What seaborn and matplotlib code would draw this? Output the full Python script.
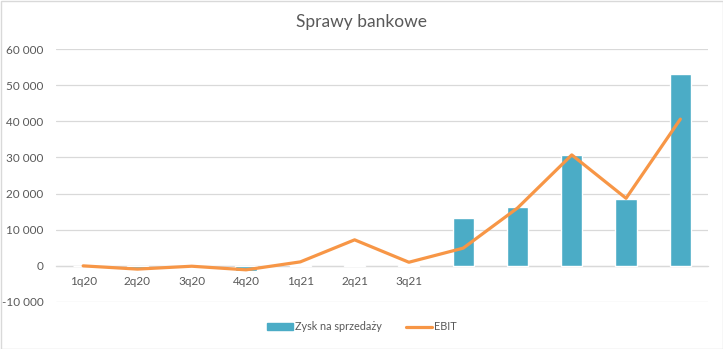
import numpy as np
import pandas as pd
import matplotlib
matplotlib.use("Agg")
import matplotlib.pyplot as plt
import seaborn as sns
from matplotlib.patches import Patch, Rectangle
from matplotlib.lines import Line2D

categories = ["1q20", "2q20", "3q20", "4q20", "1q21", "2q21", "3q21", "", "", "", "", ""]
zysk = [0, -1000, -200, -1300, 300, 300, 300, 13300, 16300, 30700, 18500, 53200]
ebit = [0, -900, -100, -1100, 1100, 7200, 1000, 4900, 16000, 30700, 18700, 40600]
yticks = [-10000, 0, 10000, 20000, 30000, 40000, 50000, 60000]

sns.set_theme(style="white")
plt.rcParams['font.family'] = ['Lato', 'DejaVu Sans']

BAR = "#4BACC6"
LINE = "#F79646"
TXT = "#595959"

fig = plt.figure(figsize=(7.23, 3.49), dpi=100)
ax = fig.add_axes([56/723, 1-302/349, (707.5-56)/723, (302-49)/349])

df = pd.DataFrame({"pos": np.arange(len(categories)), "zysk": zysk, "ebit": ebit})
sns.barplot(data=df, x="pos", y="zysk", color=BAR, width=0.39, saturation=1, ax=ax, zorder=2)
sns.lineplot(x=df["pos"].values, y=df["ebit"].values, color=LINE, linewidth=2.3, ax=ax, zorder=3,
             solid_capstyle="round", solid_joinstyle="round")

ax.set_ylim(-10000, 60000)
ax.set_xlim(-0.5, len(categories) - 0.5)
ax.set_yticks(yticks)
ax.set_yticklabels([f"{v:,}".replace(",", " ") for v in yticks])
ax.set_xticks(range(len(categories)))
ax.set_xticklabels(categories)
ax.set_xlabel("")
ax.set_ylabel("")
ax.yaxis.grid(True, color="#d9d9d9", linewidth=0.9, zorder=0)
ax.set_axisbelow(True)
for s in ["top", "right", "left"]:
    ax.spines[s].set_visible(False)
ax.spines["bottom"].set_position(("data", 0))
ax.spines["bottom"].set_color("#d9d9d9")
ax.spines["bottom"].set_linewidth(0.9)
ax.spines["bottom"].set_zorder(1)
ax.tick_params(axis="x", length=0, pad=7, labelsize=8.5, labelcolor=TXT)
ax.tick_params(axis="y", length=0, pad=9, labelsize=8.5, labelcolor=TXT)

fig.text(0.5, 1 - 22/349, "Sprawy bankowe", ha="center", va="center", fontsize=12.5, color=TXT)

handles = [Patch(facecolor=BAR, edgecolor=BAR), Line2D([0], [0], color=LINE, linewidth=2.3)]
fig.legend(handles, ["Zysk na sprzedaży", "EBIT"], loc="center", bbox_to_anchor=(0.5, 1 - 327/349),
           ncol=2, frameon=False, fontsize=7.8, labelcolor=TXT, handlelength=2.4, handleheight=0.6,
           columnspacing=2.2, handletextpad=0.2)

fig.patches.append(Rectangle((0.5/723, 0.5/349), 1 - 1/723, 1 - 1/349, transform=fig.transFigure,
                             fill=False, edgecolor="#d9d9d9", linewidth=1))
fig.savefig("out.png", dpi=100)
